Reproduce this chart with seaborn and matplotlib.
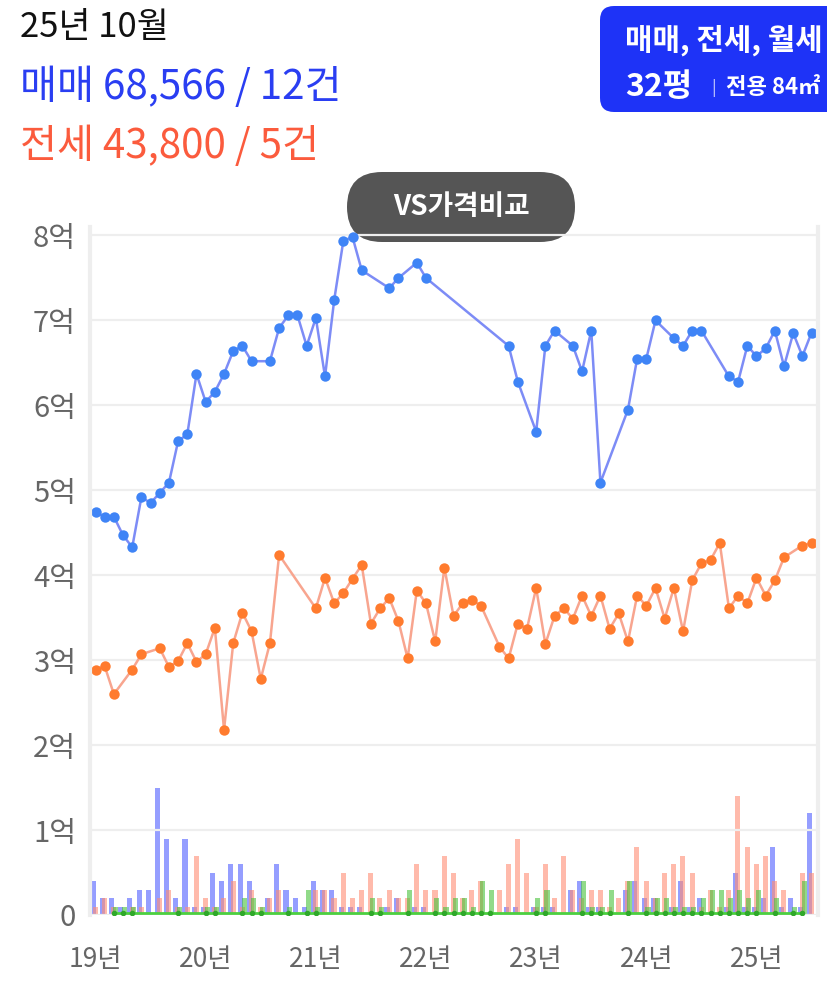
import pandas as pd
import seaborn as sns
import matplotlib.pyplot as plt
from matplotlib.patches import FancyBboxPatch
from matplotlib.transforms import IdentityTransform

# month index 0..78, prices in 억
sale_months = [0, 1, 2, 3, 4, 5, 6, 7, 8, 9, 10, 11, 12, 13, 14, 15, 16, 17,
               19, 20, 21, 22, 23, 24, 25, 26, 27, 28, 29, 32, 33, 35, 36,
               45, 46, 48, 49, 50, 52, 53, 54, 55, 58, 59, 60, 61, 63, 64, 65, 66,
               69, 70, 71, 72, 73, 74, 75, 76, 77, 78]
sale_prices = [4.74, 4.69, 4.69, 4.47, 4.33, 4.92, 4.85, 4.97, 5.09, 5.58, 5.66, 6.37, 6.04, 6.16, 6.37, 6.64, 6.70, 6.52,
               6.52, 6.91, 7.06, 7.06, 6.70, 7.03, 6.34, 7.24, 7.94, 7.98, 7.59, 7.38, 7.50, 7.68, 7.50,
               6.70, 6.28, 5.69, 6.70, 6.88, 6.70, 6.40, 6.88, 5.09, 5.95, 6.55, 6.55, 7.00, 6.79, 6.70, 6.88, 6.88,
               6.34, 6.28, 6.70, 6.58, 6.67, 6.88, 6.46, 6.85, 6.58, 6.8566]

jeonse_months = [0, 1, 2, 4, 5, 7, 8, 9, 10, 11, 12, 13, 14, 15, 16, 17, 18, 19, 20,
                 24, 25, 26, 27, 28, 29, 30, 31, 32, 33, 34, 35, 36, 37, 38, 39, 40, 41, 42,
                 44, 45, 46, 47, 48, 49, 50, 51, 52, 53, 54, 55, 56, 57, 58, 59, 60, 61, 62,
                 63, 64, 65, 66, 67, 68, 69, 70, 71, 72, 73, 74, 75, 77, 78]
jeonse_prices = [2.89, 2.93, 2.60, 2.89, 3.07, 3.14, 2.92, 2.99, 3.20, 2.98, 3.07, 3.38, 2.18, 3.20, 3.56, 3.34, 2.78, 3.20, 4.24,
                 3.61, 3.97, 3.67, 3.79, 3.96, 4.12, 3.43, 3.61, 3.73, 3.46, 3.02, 3.82, 3.67, 3.22, 4.09, 3.52, 3.67, 3.71, 3.64,
                 3.16, 3.02, 3.43, 3.37, 3.85, 3.19, 3.52, 3.61, 3.49, 3.76, 3.52, 3.76, 3.37, 3.55, 3.22, 3.76, 3.64, 3.85, 3.49,
                 3.85, 3.34, 3.94, 4.14, 4.18, 4.38, 3.61, 3.76, 3.67, 3.97, 3.76, 3.94, 4.21, 4.35, 4.38]

wolse_months = [2, 3, 4, 9, 12, 13, 16, 17, 18, 21, 23, 24, 30, 31, 34, 37, 38, 39, 40, 41, 42, 43,
                48, 49, 53, 54, 55, 56, 58, 60, 61, 62, 63, 64, 65, 66, 67, 68, 69, 70, 71, 72, 74, 76, 77]
wolse_prices = [0.02, 0.02, 0.02, 0.02, 0.02, 0.02, 0.02, 0.02, 0.02, 0.02, 0.02, 0.02, 0.02, 0.02, 0.02,
                0.02, 0.02, 0.02, 0.02, 0.02, 0.02, 0.02, 0.02, 0.02, 0.02, 0.02, 0.02, 0.02, 0.02, 0.02,
                0.02, 0.02, 0.02, 0.02, 0.02, 0.02, 0.02, 0.02, 0.02, 0.02, 0.02, 0.02, 0.02, 0.02, 0.02]

# monthly transaction counts (건), months 0..78
sale_counts = [4, 2, 2, 1, 2, 3, 3, 15, 9, 2, 9, 1, 1, 5, 4, 6, 6, 4, 0, 2,
               6, 3, 2, 1, 4, 3, 3, 1, 1, 1, 0, 0, 1, 2, 0, 1, 1, 0, 0, 0,
               0, 0, 0, 0, 0, 1, 1, 0, 1, 1, 1, 0, 3, 4, 1, 1, 0, 0, 3, 4,
               2, 2, 0, 1, 4, 1, 2, 0, 0, 1, 5, 1, 1, 2, 8, 1, 2, 1, 12]
jeonse_counts = [1, 2, 1, 0, 1, 1, 0, 2, 3, 1, 1, 7, 2, 1, 2, 4, 1, 3, 1, 2,
                 3, 0, 0, 0, 3, 3, 2, 5, 2, 3, 5, 2, 3, 2, 2, 6, 3, 3, 7, 5,
                 2, 3, 4, 0, 3, 6, 9, 5, 1, 6, 2, 7, 3, 2, 3, 3, 1, 2, 4, 8,
                 4, 2, 5, 6, 7, 5, 1, 3, 1, 3, 14, 8, 6, 7, 4, 3, 0, 5, 5]
wolse_counts = [0, 0, 1, 1, 1, 0, 0, 0, 0, 1, 0, 0, 1, 1, 0, 0, 2, 2, 1, 0,
                0, 1, 0, 3, 1, 0, 0, 0, 0, 0, 2, 1, 0, 0, 3, 0, 0, 2, 1, 2,
                2, 1, 4, 3, 0, 0, 0, 0, 2, 3, 0, 0, 0, 4, 1, 1, 3, 0, 4, 0,
                1, 2, 2, 1, 1, 1, 2, 3, 3, 2, 3, 2, 3, 0, 2, 0, 1, 4, 0]

year_ticks = [0, 12, 24, 36, 48, 60, 72]
year_labels = ['19년', '20년', '21년', '22년', '23년', '24년', '25년']
price_ticks = [0, 1, 2, 3, 4, 5, 6, 7, 8]
price_labels = ['0', '1억', '2억', '3억', '4억', '5억', '6억', '7억', '8억']

W, H = 827, 994

sns.set_theme(style='white')
plt.rcParams['font.family'] = ['Noto Sans CJK KR', 'DejaVu Sans']

fig = plt.figure(figsize=(W / 100, H / 100), dpi=100)
ax = fig.add_axes([90 / W, 1 - 915 / H, (818 - 90) / W, (915 - 227) / H])
ax2 = ax.twinx()
ax.set_zorder(ax2.get_zorder() + 1)
ax.patch.set_visible(False)

# volume bars (behind the price lines)
months = list(range(len(sale_counts)))
bw = 0.55
ax2.bar([m - 0.25 for m in months], sale_counts, width=bw, color='#5563ff', alpha=0.62, lw=0)
ax2.bar([m - 0.02 for m in months], jeonse_counts, width=bw, color='#ff8c74', alpha=0.6, lw=0)
ax2.bar([m + 0.18 for m in months], wolse_counts, width=bw, color='#48c23a', alpha=0.6, lw=0)
ax2.set_ylim(0, 81)
ax2.set_yticks([])
for s in ax2.spines.values():
    s.set_visible(False)

sale_df = pd.DataFrame({'month': sale_months, 'price': sale_prices})
jeonse_df = pd.DataFrame({'month': jeonse_months, 'price': jeonse_prices})
wolse_df = pd.DataFrame({'month': wolse_months, 'price': wolse_prices})

sns.lineplot(data=sale_df, x='month', y='price', ax=ax, color='#7d8cf6', lw=1.8,
             marker='o', markersize=7.5, markerfacecolor='#3f84f6', markeredgewidth=0)
sns.lineplot(data=jeonse_df, x='month', y='price', ax=ax, color='#f8a58f', lw=1.8,
             marker='o', markersize=7.5, markerfacecolor='#ff7b2e', markeredgewidth=0)
sns.lineplot(data=wolse_df, x='month', y='price', ax=ax, color='#4cd040', lw=2,
             marker='o', markersize=4, markerfacecolor='#2fa82a', markeredgewidth=0)

ax.set_xlim(-0.6, 78.7)
ax.set_ylim(0, 8.1)
ax2.set_xlim(-0.6, 78.7)
ax.set_xticks(year_ticks, year_labels)
ax.set_yticks(price_ticks, price_labels)
ax.set_xlabel('')
ax.set_ylabel('')
ax.tick_params(axis='x', length=0, pad=22, labelsize=19, labelcolor='#666666')
ax.tick_params(axis='y', length=0, pad=10, labelsize=21, labelcolor='#666666')
ax.grid(axis='y', color='#eeeeee', lw=1.6)
ax.grid(axis='x', visible=False)
for side in ['top', 'bottom']:
    ax.spines[side].set_visible(False)
for side in ['left', 'right']:
    ax.spines[side].set_color('#eeeeee')
    ax.spines[side].set_linewidth(3)

# header texts
fig.text(20 / W, 1 - 28 / H, '25년 10월', fontsize=25, color='#111111', va='center', ha='left')
fig.text(20 / W, 1 - 87 / H, '매매 68,566 / 12건', fontsize=29, color='#2a3ef2', va='center', ha='left')
fig.text(20 / W, 1 - 146 / H, '전세 43,800 / 5건', fontsize=29, color='#fb5b3d', va='center', ha='left')

# top-right blue filter box (runs past the right edge)
fig.add_artist(FancyBboxPatch((600, H - 112), 260, 106, boxstyle='round,pad=0,rounding_size=14',
                              transform=IdentityTransform(), fc='#1e33f7', ec='none'))
fig.text(625 / W, 1 - 40 / H, '매매, 전세, 월세', fontsize=21.5, color='white', va='center', ha='left',
         fontweight='bold')
fig.text(625 / W, 1 - 87 / H, '32평', fontsize=23, color='white', va='center', ha='left', fontweight='bold')
fig.text(711 / W, 1 - 88 / H, '|', fontsize=12, color='#c8cdfd', va='center', ha='left')
fig.text(726 / W, 1 - 88 / H, '전용 84㎡', fontsize=16, color='white', va='center', ha='left', fontweight='bold')

# VS price compare button
fig.add_artist(FancyBboxPatch((347, H - 242), 228, 70, boxstyle='round,pad=0,rounding_size=35',
                              transform=IdentityTransform(), fc='#555555', ec='none'))
fig.text(461 / W, 1 - 207 / H, 'VS가격비교', fontsize=20, color='white', va='center', ha='center',
         fontweight='bold')

fig.savefig('out.png', dpi=100)
